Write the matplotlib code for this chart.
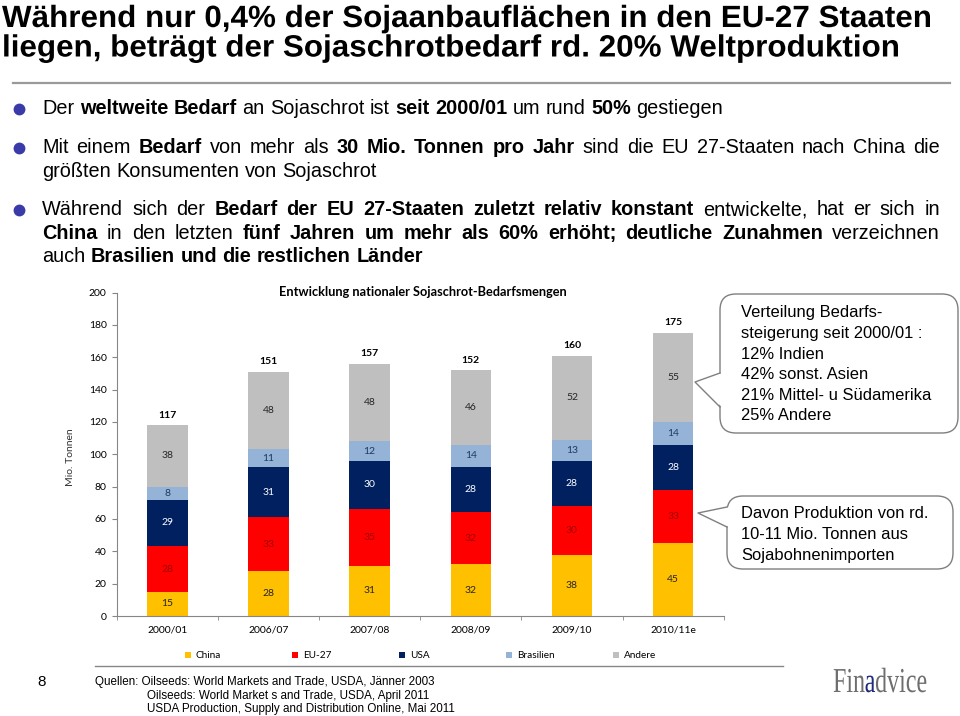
import matplotlib
matplotlib.use('Agg')
import matplotlib.pyplot as plt
import numpy as np
from matplotlib.patches import FancyBboxPatch, Polygon, Rectangle, PathPatch
from matplotlib.textpath import TextPath
from matplotlib.font_manager import FontProperties
from matplotlib.transforms import Affine2D

# chart data
years = ['2000/01', '2006/07', '2007/08', '2008/09', '2009/10', '2010/11e']
series = ['China', 'EU-27', 'USA', 'Brasilien', 'Andere']
china = [15, 28, 31, 32, 38, 45]
eu27 = [28, 33, 35, 32, 30, 33]
usa = [29, 31, 30, 28, 28, 28]
brasilien = [8, 11, 12, 14, 13, 14]
andere = [38, 48, 48, 46, 52, 55]
totals = [117, 151, 157, 152, 160, 175]

colors = ['#FFC000', '#FF0000', '#002060', '#95B3D7', '#BFBFBF']
label_colors = ['#262626', '#A00000', 'white', '#1F3864', '#262626']

title_lines = ['Während nur 0,4% der Sojaanbauflächen in den EU-27 Staaten',
               'liegen, beträgt der Sojaschrotbedarf rd. 20% Weltproduktion']

# (text, bold) runs per line, True = justified
bullet_lines = [
    ([('Der ', 0), ('weltweite Bedarf', 1), (' an Sojaschrot ist ', 0), ('seit 2000/01', 1),
      (' um rund ', 0), ('50%', 1), (' gestiegen', 0)], False),
    ([('Mit einem ', 0), ('Bedarf', 1), (' von mehr als ', 0), ('30 Mio. Tonnen pro Jahr', 1),
      (' sind die EU 27-Staaten nach China die', 0)], True),
    ([('größten Konsumenten von Sojaschrot', 0)], False),
    ([('Während sich der ', 0), ('Bedarf der EU 27-Staaten zuletzt relativ konstant', 1),
      (' entwickelte, hat er sich in', 0)], True),
    ([('China', 1), (' in den letzten ', 0), ('fünf Jahren um mehr als 60% erhöht; deutliche Zunahmen', 1),
      (' verzeichnen', 0)], True),
    ([('auch ', 0), ('Brasilien und die restlichen Länder', 1)], False),
]
bullet_base = [114, 153, 177, 215, 239, 262]
bullet_dots = [0, 1, 3]

box1_lines = ['Verteilung Bedarfs-', 'steigerung seit 2000/01 :', '12% Indien',
              '42% sonst. Asien', '21% Mittel- u Südamerika', '25% Andere']
box2_lines = ['Davon Produktion von rd.', '10-11 Mio. Tonnen aus', 'Sojabohnenimporten']

sources = ['Quellen: Oilseeds: World Markets and Trade, USDA, Jänner 2003',
           'Oilseeds: World Market s and Trade, USDA, April 2011',
           'USDA Production, Supply and Distribution Online, Mai 2011']

SANS = ['Liberation Sans', 'DejaVu Sans']
CHART = ['Lato', 'DejaVu Sans']
GRAY = '#868686'

fig = plt.figure(figsize=(9.6, 7.16), dpi=100)
deco = fig.add_axes([0, 0, 1, 1])
deco.set_xlim(0, 960)
deco.set_ylim(716, 0)
deco.axis('off')
renderer = fig.canvas.get_renderer()


def text_width(s, **kw):
    t = deco.text(0, 0, s, **kw)
    w = t.get_window_extent(renderer).width
    t.remove()
    return w


def rich_line(x0, y, runs, size, width=None):
    words = []
    for txt, b in runs:
        for w in txt.split():
            words.append((w, 'bold' if b else 'normal'))
    ws = [text_width(w, fontsize=size, family=SANS, fontweight=fw) for w, fw in words]
    if width is not None and len(words) > 1:
        gap = (width - sum(ws)) / (len(words) - 1)
    else:
        gap = text_width('x x', fontsize=size, family=SANS) - text_width('xx', fontsize=size, family=SANS)
    x = x0
    for (w, fw), wd in zip(words, ws):
        deco.text(x, y, w, fontsize=size, family=SANS, fontweight=fw, va='baseline', color='black')
        x += wd + gap


def squeezed(x0, y, s, size, sx, prop, color):
    # text as path, narrowed horizontally (no narrow font installed)
    tp = TextPath((0, 0), s, size=size, prop=prop)
    tr = Affine2D().scale(sx, -1.0).translate(x0, y)
    deco.add_patch(PathPatch(tr.transform_path(tp), fc=color, ec='none', lw=0))
    return tp.get_extents().x1 * sx


# title, condensed bold
tprop = FontProperties(family=SANS, weight='bold')
tsz = 22 / 0.716
w_full = TextPath((0, 0), title_lines[0], size=tsz, prop=tprop).get_extents().x1
tsx = 928 / w_full
for i, line in enumerate(title_lines):
    squeezed(2, 27 + i * 29.5, line, tsz, tsx, tprop, 'black')
deco.plot([13, 950], [83, 83], color='#9A9A9A', lw=1.6)

# bullets
w10 = sum(text_width(t, fontsize=10, family=SANS, fontweight='bold' if b else 'normal')
          for t, b in bullet_lines[0][0])
bsize = 10 * 680 / w10
for i, ((runs, just), yb) in enumerate(zip(bullet_lines, bullet_base)):
    rich_line(42, yb, runs, bsize, 898 if just else None)
    if i in bullet_dots:
        deco.plot(19, yb - 5.5, 'o', ms=7.5, color='#3A3AA8')

# stacked bars
ax = fig.add_axes([116.7 / 960, 100 / 716, 607 / 960, 323.5 / 716])
ax.patch.set_alpha(0)
x = np.arange(len(years))
bottom = np.zeros(len(years))
for vals, name, c, lc in zip([china, eu27, usa, brasilien, andere], series, colors, label_colors):
    bars = ax.bar(x, vals, 0.4, bottom=bottom, color=c, label=name)
    ax.bar_label(bars, labels=[str(v) for v in vals], label_type='center',
                 color=lc, fontsize=7.5, family=CHART)
    bottom += np.array(vals)
ax.bar_label(bars, labels=[str(t) for t in totals], padding=4, fontsize=7.5,
             family=CHART, fontweight='bold')

ax.set_xlim(-0.5, len(years) - 0.5)
ax.set_ylim(0, 200)
ax.set_yticks(range(0, 201, 20))
ax.set_xticks(x)
ax.set_xticklabels(years)
ax.set_xticks(np.arange(-0.5, len(years)), minor=True)
ax.tick_params(axis='y', length=3.6, color=GRAY, labelsize=7.5, pad=3.6)
ax.tick_params(axis='x', which='major', length=0, labelsize=7.5, pad=6.5)
ax.tick_params(axis='x', which='minor', length=3, color=GRAY)
for lab in ax.get_xticklabels() + ax.get_yticklabels():
    lab.set_family(CHART)
for s in ['top', 'right']:
    ax.spines[s].set_visible(False)
for s in ['left', 'bottom']:
    ax.spines[s].set_color(GRAY)
ax.set_ylabel('Mio. Tonnen', fontsize=7.5, family=CHART, color='#333333')
ax.yaxis.set_label_coords(-0.069, 0.49)

deco.text(423, 292, 'Entwicklung nationaler Sojaschrot-Bedarfsmengen', ha='center', va='center',
          fontsize=9.2, family=CHART, fontweight='bold')

# legend
for i, (name, c) in enumerate(zip(series, colors)):
    lx = 188 + i * 107
    deco.add_patch(Rectangle((lx - 3, 652), 6, 6, color=c, lw=0))
    deco.text(lx + 8, 655.5, name, va='center', fontsize=7.2, family=CHART)


# callouts
def callout(x0, y0, w, h, tip, b1, b2, lines, ty):
    deco.add_patch(FancyBboxPatch((x0, y0), w, h, boxstyle='round,pad=0,rounding_size=16',
                                  fc='white', ec='#7F7F7F', lw=1))
    deco.add_patch(Polygon([(x0 + 2, b1), tip, (x0 + 2, b2)], closed=True, fc='white', ec='none', zorder=3))
    deco.plot([x0, tip[0], x0], [b1, tip[1], b2], color='#7F7F7F', lw=1, zorder=4)
    for i, line in enumerate(lines):
        deco.text(741, ty + i * 20.6, line, va='center', fontsize=11.9, family=SANS, zorder=5)


callout(720, 294, 238, 139, (695, 382), 373, 407, box1_lines, 313)
callout(727, 496, 226, 73, (698, 513), 507, 527, box2_lines, 514)

# footer
deco.plot([95, 783], [666, 666], color=GRAY, lw=1)
deco.text(37, 686, '8', fontsize=11, family=SANS, va='baseline')
for i, s in enumerate(sources):
    deco.text(95 if i == 0 else 147, 685 + i * 13.6, s, fontsize=8.4, family=SANS, va='baseline')

# logo, squeezed serif
lprop = FontProperties(family=['Liberation Serif', 'DejaVu Serif'])
parts = [('Fin', '#6E6E6E'), ('a', '#1F2A7A'), ('dvice', '#6E6E6E')]
lsz = 35
lw_full = TextPath((0, 0), 'Finadvice', size=lsz, prop=lprop).get_extents().x1
lsx = 94 / lw_full
lx = 833
for part, col in parts:
    squeezed(lx, 692, part, lsz, lsx, lprop, col)
    lx += TextPath((0, 0), part, size=lsz, prop=lprop).get_extents().x1 * lsx

fig.savefig('out.png', dpi=100)
